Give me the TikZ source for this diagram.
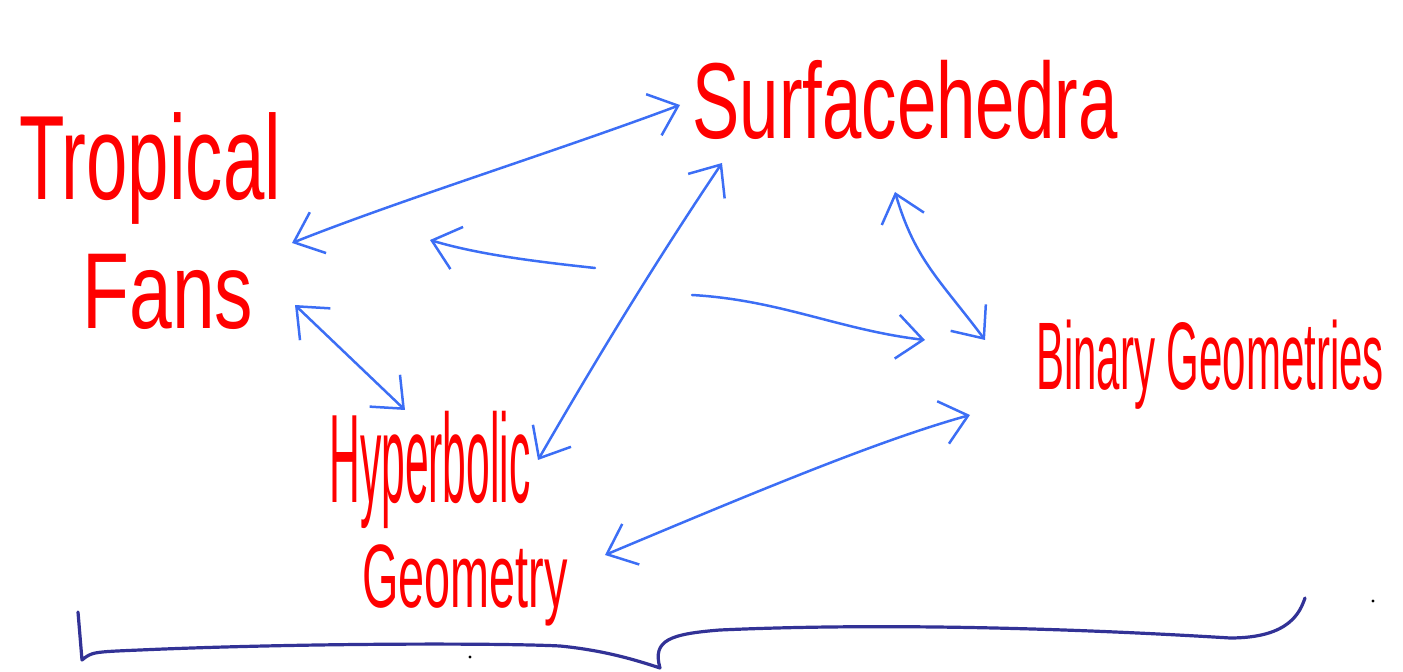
\documentclass[tikz,border=0pt]{standalone}
\usepackage{fontspec}
\setmainfont{Liberation Sans}
\usepackage{graphicx}
\usetikzlibrary{arrows.meta}
\definecolor{penred}{RGB}{255,0,0}
\definecolor{penblue}{RGB}{60,110,245}
\definecolor{bracecol}{RGB}{50,50,150}
\tikzset{
  label/.style={text=penred, inner sep=0pt, font=\fontsize{30}{36}\selectfont},
  link/.style={draw=penblue, line width=1.25pt, line cap=round, line join=round},
  both/.style={link, {Straight Barb[length=13pt,width=22pt]}-{Straight Barb[length=13pt,width=22pt]}},
  fwd/.style={link, -{Straight Barb[length=13pt,width=22pt]}},
  bracestyle/.style={draw=bracecol, line width=1.6pt, line cap=round, line join=round},
}
\begin{document}
\begin{tikzpicture}[x=0.5pt,y=-0.5pt]
\useasboundingbox (0,0) rectangle (1403,672);
% text nodes
\node[label] (trop) at (150,168) {\scalebox{1.24}[2.0]{Tropical}};
\node[label] (fans) at (168,292) {\scalebox{1.28}[1.8]{Fans}};
\node[label] (surf) at (905,100) {\scalebox{1.18}[1.8]{Surfacehedra}};
\node[label] (bin) at (1210,365) {\scalebox{0.70}[1.6]{Binary Geometries}};
\node[label] (hyp) at (430,470) {\scalebox{0.71}[2.1]{Hyperbolic}};
\node[label] (geo) at (465,585) {\scalebox{0.78}[1.5]{Geometry}};
% arrow end points
\coordinate (tfA) at (292,243);
\coordinate (sfA) at (680,105);
\coordinate (tfB) at (430,240);
\coordinate (mB) at (595,268);
\coordinate (tfC) at (295,305);
\coordinate (hyC) at (405,410);
\coordinate (sfD) at (722,163);
\coordinate (hyD) at (538,460);
\coordinate (mE) at (692,295);
\coordinate (biE) at (925,340);
\coordinate (sfF) at (895,192);
\coordinate (biF) at (985,340);
\coordinate (geG) at (605,555);
\coordinate (biG) at (970,415);
% connectors
\draw[both] (tfA) .. controls (400,200) and (560,150) .. (sfA);
\draw[fwd] (mB) .. controls (540,262) and (480,255) .. (tfB);
\draw[both] (tfC) -- (hyC);
\draw[both] (sfD) .. controls (650,270) and (590,370) .. (hyD);
\draw[fwd] (mE) .. controls (780,300) and (840,330) .. (biE);
\draw[both] (sfF) .. controls (915,260) and (940,280) .. (biF);
\draw[both] (geG) .. controls (760,490) and (880,440) .. (biG);
% brace
\draw[bracestyle] (78,612) -- (82,660) .. controls (92,652) .. (140,650)
  .. controls (300,643) and (500,643) .. (560,646)
  .. controls (600,650) and (630,658) .. (660,668)
  .. controls (652,640) and (670,634) .. (720,630)
  .. controls (900,622) and (1100,630) .. (1230,638)
  .. controls (1290,638) and (1300,612) .. (1305,598);
% dots
\fill (470,657) circle (1.6);
\fill (1373,601) circle (1.6);
\end{tikzpicture}
\end{document}
